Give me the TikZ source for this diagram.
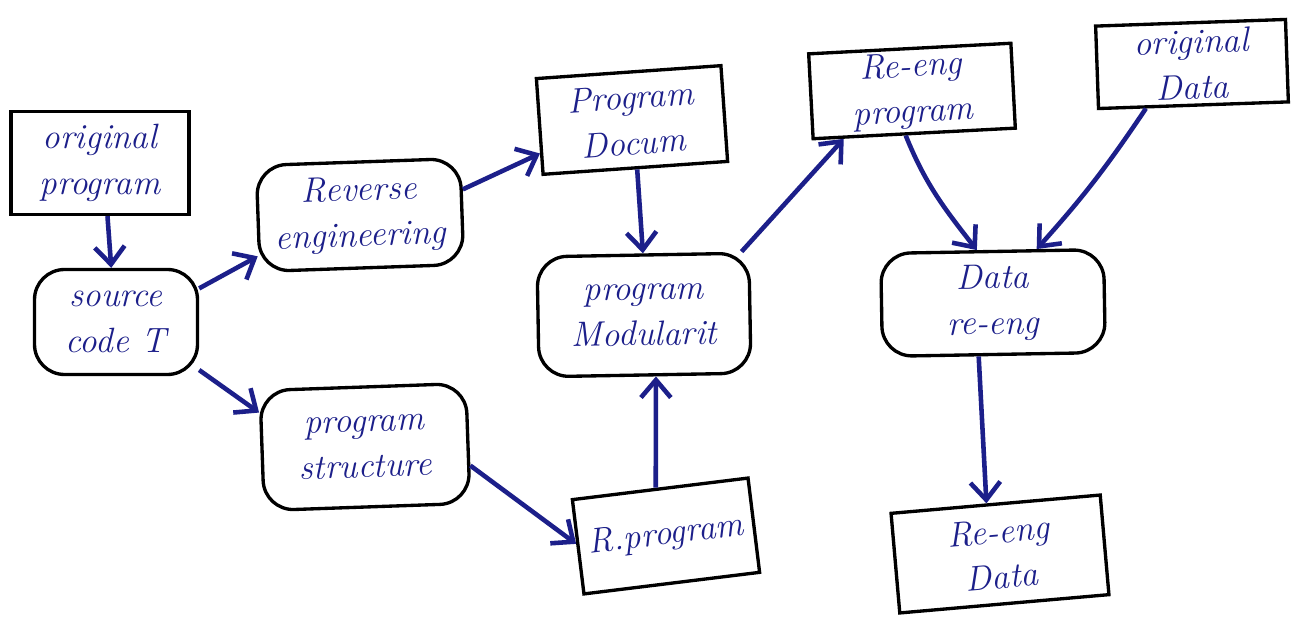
\documentclass[tikz,border=0pt]{standalone}
\usetikzlibrary{arrows.meta}
\definecolor{ink}{HTML}{1C1F8A}
\begin{document}
\begin{tikzpicture}[x=0.02cm,y=-0.02cm,
  lbl/.style={text=ink,font=\fontsize{20}{26}\selectfont\itshape,align=center},
  sqbox/.style={lbl,draw=black,line width=1.9pt,inner sep=2pt},
  rbox/.style={sqbox,rounded corners=0.6cm},
  flow/.style={draw=ink,line width=2.6pt,-{Straight Barb[length=10pt,width=17pt,line width=2.6pt]}}]
\useasboundingbox (0,0) rectangle (1303,631);
\fill[white] (0,0) rectangle (1303,631);

% boxes
\node[sqbox,minimum width=3.56cm,minimum height=2.06cm] (orig) at (100,163) {original\\program};
\node[rbox,minimum width=3.26cm,minimum height=2.1cm] (src) at (116,322) {source\\code T};
\node[rbox,minimum width=4.08cm,minimum height=2.12cm,rotate=2] (rev) at (360,215) {Reverse\\engineering};
\node[rbox,minimum width=4.12cm,minimum height=2.4cm,rotate=2] (struct) at (365,447) {program\\structure};
\node[sqbox,minimum width=3.7cm,minimum height=1.92cm,rotate=4] (docum) at (632,120) {Program\\Docum};
\node[rbox,minimum width=4.24cm,minimum height=2.4cm,rotate=1] (modul) at (644,315) {program\\Modularit};
\node[sqbox,minimum width=3.54cm,minimum height=1.9cm,rotate=7] (rprog) at (666,536) {R.program};
\node[sqbox,minimum width=4.05cm,minimum height=1.7cm,rotate=3] (reprog) at (912,91) {Re-eng\\program};
\node[sqbox,minimum width=3.8cm,minimum height=1.65cm,rotate=2] (odata) at (1192,64) {original\\Data};
\node[rbox,minimum width=4.46cm,minimum height=2.06cm,rotate=1] (dre) at (993,303) {Data\\re-eng};
\node[sqbox,minimum width=4.2cm,minimum height=2.0cm,rotate=5] (redata) at (1000,554) {Re-eng\\Data};

% connectors
\draw[flow] (orig.-82) -- (src.95);
\draw[flow] (src.22) -- (rev.200);
\draw[flow] (src.-30) -- (struct.160);
\draw[flow] (rev.12) -- (docum.196);
\draw[flow] (docum.-88) -- (modul.90);
\draw[flow] (struct.-12) -- (rprog.178);
\draw[flow] (rprog.95) -- (modul.-80);
\draw[flow] (modul.32) -- (reprog.212);
\draw[flow] (reprog.259) to[out=-68,in=128] (dre.106);
\draw[flow] (odata.222) to[bend left=4] (dre.50);
\draw[flow] (dre.-106) -- (redata.100);
\end{tikzpicture}
\end{document}
